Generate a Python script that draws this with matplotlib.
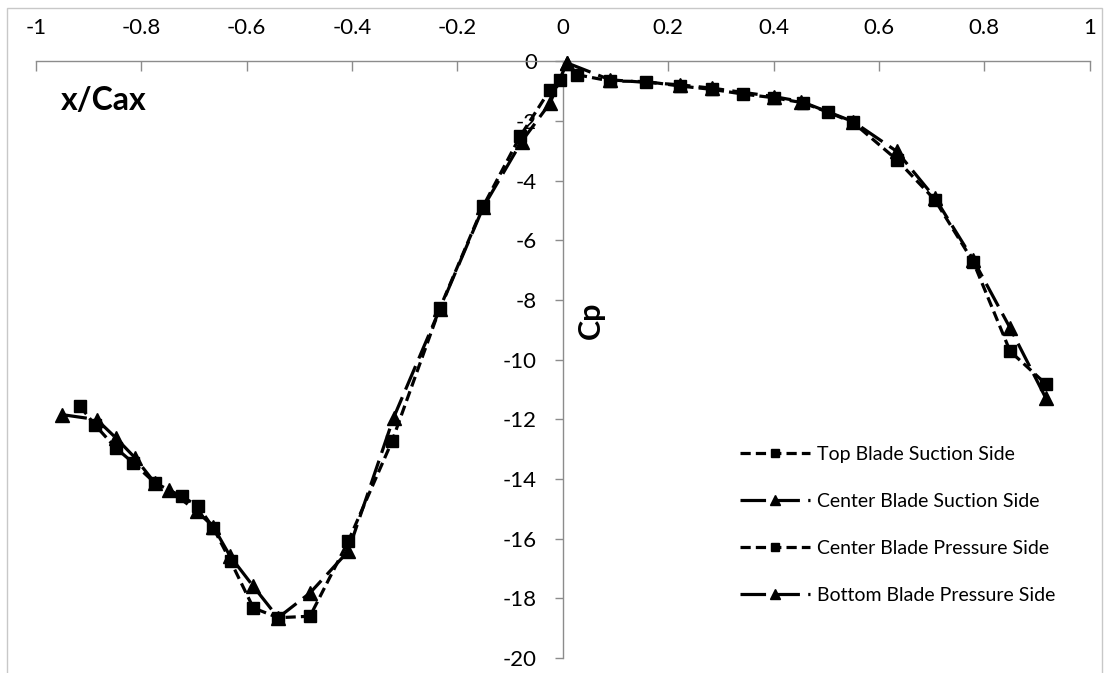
import matplotlib
matplotlib.use("Agg")
import matplotlib.pyplot as plt
from matplotlib.patches import Rectangle

# Pressure coefficient distributions around the blade (x/Cax vs Cp)
top_ss_x = [0.027, 0.090, 0.159, 0.223, 0.283, 0.343, 0.400, 0.456, 0.504,
            0.551, 0.634, 0.706, 0.779, 0.849, 0.9165]
top_ss_cp = [-0.45, -0.66, -0.68, -0.83, -0.94, -1.10, -1.22, -1.39, -1.71,
             -2.05, -3.30, -4.64, -6.72, -9.72, -10.81]

center_ss_x = [0.0076, 0.090, 0.223, 0.283, 0.400, 0.453, 0.551, 0.634,
               0.706, 0.779, 0.849, 0.9165]
center_ss_cp = [-0.05, -0.62, -0.79, -0.90, -1.18, -1.35, -2.02, -3.02,
                -4.57, -6.65, -8.94, -11.28]

center_ps_x = [-0.916, -0.887, -0.848, -0.815, -0.774, -0.723, -0.692, -0.663,
               -0.630, -0.587, -0.540, -0.4795, -0.407, -0.324, -0.233,
               -0.151, -0.081, -0.024, -0.005]
center_ps_cp = [-11.56, -12.20, -12.96, -13.46, -14.13, -14.58, -14.91, -15.64,
                -16.76, -18.32, -18.65, -18.60, -16.09, -12.74, -8.27,
                -4.86, -2.52, -0.95, -0.62]

bottom_ps_x = [-0.951, -0.884, -0.848, -0.8115, -0.774, -0.748, -0.694, -0.663,
               -0.631, -0.587, -0.540, -0.4795, -0.407, -0.321, -0.233,
               -0.151, -0.078, -0.024, 0.0076]
bottom_ps_cp = [-11.84, -12.01, -12.62, -13.29, -14.13, -14.36, -15.08, -15.60,
                -16.59, -17.60, -18.65, -17.82, -16.42, -11.95, -8.30,
                -4.90, -2.69, -1.40, -0.05]

labels = ["Top Blade Suction Side", "Center Blade Suction Side",
          "Center Blade Pressure Side", "Bottom Blade Pressure Side"]

x_ticks = [-1, -0.8, -0.6, -0.4, -0.2, 0, 0.2, 0.4, 0.6, 0.8, 1]
y_ticks = [0, -2, -4, -6, -8, -10, -12, -14, -16, -18, -20]

plt.rcParams["font.family"] = ["Lato", "DejaVu Sans"]

W, H = 1108, 673
fig = plt.figure(figsize=(W / 100, H / 100), dpi=100)

# chart-area border
fig.patches.append(Rectangle((6.5 / W, -0.05), (1102 - 6.5) / W, 1.05 - 8 / H,
                             transform=fig.transFigure, fill=False,
                             edgecolor="#c8c8c8", linewidth=1.0))

left, right = 35.7, 1089.7
top, bottom = 61.3, 658.0
ax = fig.add_axes([left / W, 1 - bottom / H, (right - left) / W, (bottom - top) / H])
ax.set_xlim(-1, 1)
ax.set_ylim(-20, 0)

axis_col = "#8c8c8c"
for s in ("bottom", "right"):
    ax.spines[s].set_visible(False)
ax.spines["top"].set_color(axis_col)
ax.spines["left"].set_color(axis_col)
ax.spines["left"].set_position(("data", 0))
ax.spines["top"].set_linewidth(1.0)
ax.spines["left"].set_linewidth(1.0)

ax.xaxis.set_ticks_position("top")
ax.set_xticks(x_ticks)
ax.set_xticklabels([f"{v:g}" for v in x_ticks])
ax.tick_params(axis="x", direction="in", length=7, width=1.0, color=axis_col,
               pad=17, labelsize=16, labelcolor="black")
ax.set_yticks(y_ticks)
ax.set_yticklabels([f"{v:g}" for v in y_ticks])
ax.tick_params(axis="y", direction="out", length=5.5, width=1.0, color=axis_col,
               pad=13, labelsize=16, labelcolor="black")

short_dash = (0, (3.2, 1.6))
long_dash = (0, (8.0, 2.6))
lw = 2.3
common = dict(color="black", linewidth=lw, clip_on=False, zorder=5)

l1, = ax.plot(top_ss_x, top_ss_cp, linestyle=short_dash, marker="s",
              markersize=8.3, **common)
l2, = ax.plot(center_ss_x, center_ss_cp, linestyle=long_dash, marker="^",
              markersize=9.5, **common)
l3, = ax.plot(center_ps_x, center_ps_cp, linestyle=short_dash, marker="s",
              markersize=8.3, **common)
l4, = ax.plot(bottom_ps_x, bottom_ps_cp, linestyle=long_dash, marker="^",
              markersize=9.5, **common)

leg = ax.legend([l1, l2, l3, l4], labels, frameon=False, fontsize=14,
                loc="upper left",
                bbox_to_anchor=((740 - left) / (right - left), 1 - (446.3 - top) / (bottom - top)),
                borderaxespad=0, borderpad=0, handlelength=3.6,
                handletextpad=0.36, labelspacing=1.53, markerscale=0.75)

fig.text(104 / W, 1 - 100 / H, "x/Cax", fontsize=23, fontweight="bold",
         ha="center", va="center")
fig.text(591 / W, 1 - 320 / H, "Cp", fontsize=22, fontweight="bold",
         rotation=90, ha="center", va="center")

fig.savefig("out.png", dpi=100)
